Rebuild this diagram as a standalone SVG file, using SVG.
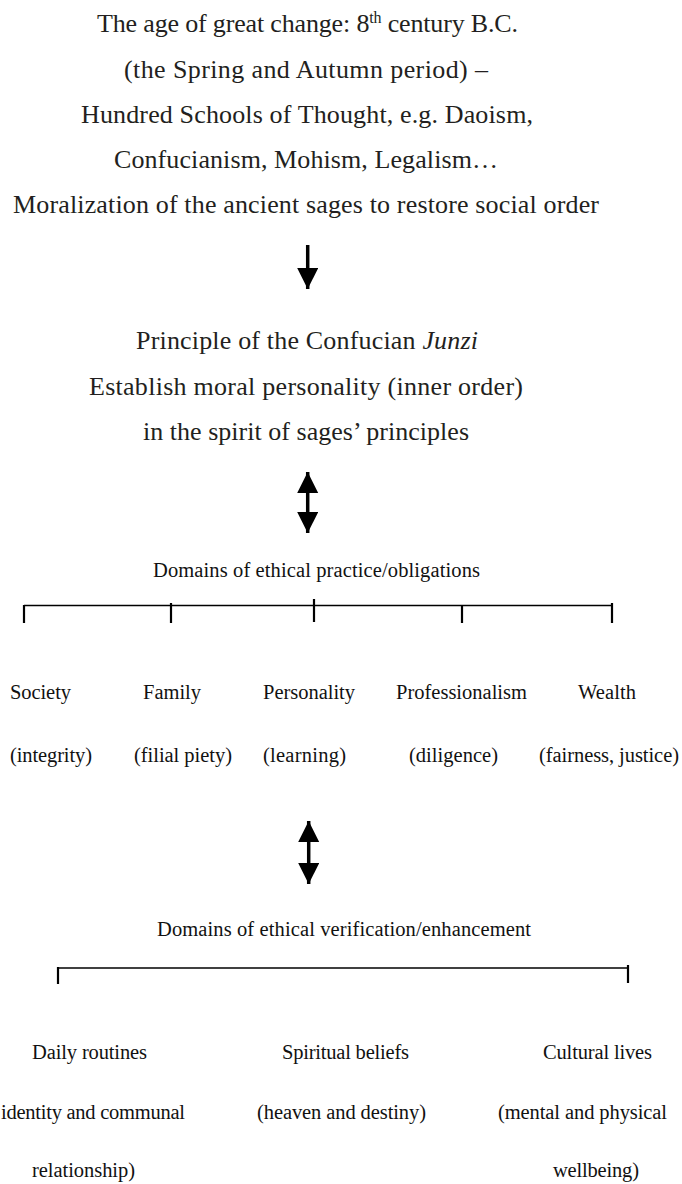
<svg xmlns="http://www.w3.org/2000/svg" width="682" height="1184" viewBox="0 0 682 1184">
<style>
.top{font-family:"Liberation Serif","Times New Roman",serif;font-size:26px;fill:#231f20;text-anchor:middle}
.low{font-family:"Liberation Serif","Times New Roman",serif;font-size:20.5px;fill:#111}
.shaft{stroke:#000;stroke-width:3.5;fill:none}
.br{stroke:#000;stroke-width:1.6;fill:none}
.tk{stroke:#000;stroke-width:2.2;fill:none}
</style>
<defs>
<marker id="head" markerUnits="userSpaceOnUse" markerWidth="22" markerHeight="22" refX="21" refY="10.5" orient="auto-start-reverse">
<path d="M0,0 L21,10.5 L0,21 Z" fill="#000"/>
</marker>
</defs>
<rect width="682" height="1184" fill="#fff"/>

<g id="node-age">
<text class="top" x="307.5" y="32" textLength="421" lengthAdjust="spacing">The age of great change: 8<tspan font-size="16" dy="-9">th</tspan><tspan dy="9"> century B.C.</tspan></text>
<text class="top" x="306" y="78" textLength="364" lengthAdjust="spacing">(the Spring and Autumn period) –</text>
<text class="top" x="307" y="123" textLength="452" lengthAdjust="spacing">Hundred Schools of Thought, e.g. Daoism,</text>
<text class="top" x="306" y="168" textLength="384" lengthAdjust="spacing">Confucianism, Mohism, Legalism…</text>
<text class="top" x="306" y="213" textLength="586" lengthAdjust="spacing">Moralization of the ancient sages to restore social order</text>
</g>

<g id="node-junzi">
<text class="top" x="307" y="349" textLength="342" lengthAdjust="spacing">Principle of the Confucian <tspan font-style="italic">Junzi</tspan></text>
<text class="top" x="306" y="395" textLength="434" lengthAdjust="spacing">Establish moral personality (inner order)</text>
<text class="top" x="306" y="440" textLength="326" lengthAdjust="spacing">in the spirit of sages’ principles</text>
</g>

<g id="node-practice">
<text class="low" x="153" y="577" textLength="327" lengthAdjust="spacing">Domains of ethical practice/obligations</text>
</g>

<g id="node-society">
<text class="low" x="10" y="699" textLength="61" lengthAdjust="spacing">Society</text>
<text class="low" x="10" y="762" textLength="82" lengthAdjust="spacing">(integrity)</text>
</g>
<g id="node-family">
<text class="low" x="143" y="699" textLength="58" lengthAdjust="spacing">Family</text>
<text class="low" x="134" y="762" textLength="98" lengthAdjust="spacing">(filial piety)</text>
</g>
<g id="node-personality">
<text class="low" x="263" y="699" textLength="92" lengthAdjust="spacing">Personality</text>
<text class="low" x="263" y="762" textLength="83" lengthAdjust="spacing">(learning)</text>
</g>
<g id="node-professionalism">
<text class="low" x="396" y="699" textLength="131" lengthAdjust="spacing">Professionalism</text>
<text class="low" x="409" y="762" textLength="89" lengthAdjust="spacing">(diligence)</text>
</g>
<g id="node-wealth">
<text class="low" x="578" y="699" textLength="58" lengthAdjust="spacing">Wealth</text>
<text class="low" x="539" y="762" textLength="140" lengthAdjust="spacing">(fairness, justice)</text>
</g>

<g id="node-verification">
<text class="low" x="157" y="936" textLength="374" lengthAdjust="spacing">Domains of ethical verification/enhancement</text>
</g>

<g id="node-daily">
<text class="low" x="32" y="1059" textLength="115" lengthAdjust="spacing">Daily routines</text>
<text class="low" x="1" y="1119" textLength="184" lengthAdjust="spacing">identity and communal</text>
<text class="low" x="32" y="1177" textLength="103" lengthAdjust="spacing">relationship)</text>
</g>
<g id="node-spiritual">
<text class="low" x="282" y="1059" textLength="127" lengthAdjust="spacing">Spiritual beliefs</text>
<text class="low" x="257" y="1119" textLength="169" lengthAdjust="spacing">(heaven and destiny)</text>
</g>
<g id="node-cultural">
<text class="low" x="543" y="1059" textLength="109" lengthAdjust="spacing">Cultural lives</text>
<text class="low" x="498" y="1119" textLength="169" lengthAdjust="spacing">(mental and physical</text>
<text class="low" x="553" y="1177" textLength="86" lengthAdjust="spacing">wellbeing)</text>
</g>

<g id="connectors">
<line class="shaft" x1="307.7" y1="245" x2="307.7" y2="289" marker-end="url(#head)"/>
<line class="shaft" x1="307.7" y1="472" x2="307.7" y2="533" marker-start="url(#head)" marker-end="url(#head)"/>
<line class="shaft" x1="308.7" y1="821" x2="308.7" y2="884" marker-start="url(#head)" marker-end="url(#head)"/>
<line class="br" x1="24" y1="605.5" x2="612" y2="605.5"/>
<line class="tk" x1="24" y1="605" x2="24" y2="623"/>
<line class="tk" x1="171" y1="603" x2="171" y2="623"/>
<line class="tk" x1="314" y1="599" x2="314" y2="622"/>
<line class="tk" x1="462" y1="605" x2="462" y2="623"/>
<line class="tk" x1="612" y1="603" x2="612" y2="623"/>
<line class="br" x1="58" y1="968" x2="628" y2="968"/>
<line class="tk" x1="58" y1="967" x2="58" y2="984"/>
<line class="tk" x1="628" y1="965" x2="628" y2="983"/>
</g>
</svg>
